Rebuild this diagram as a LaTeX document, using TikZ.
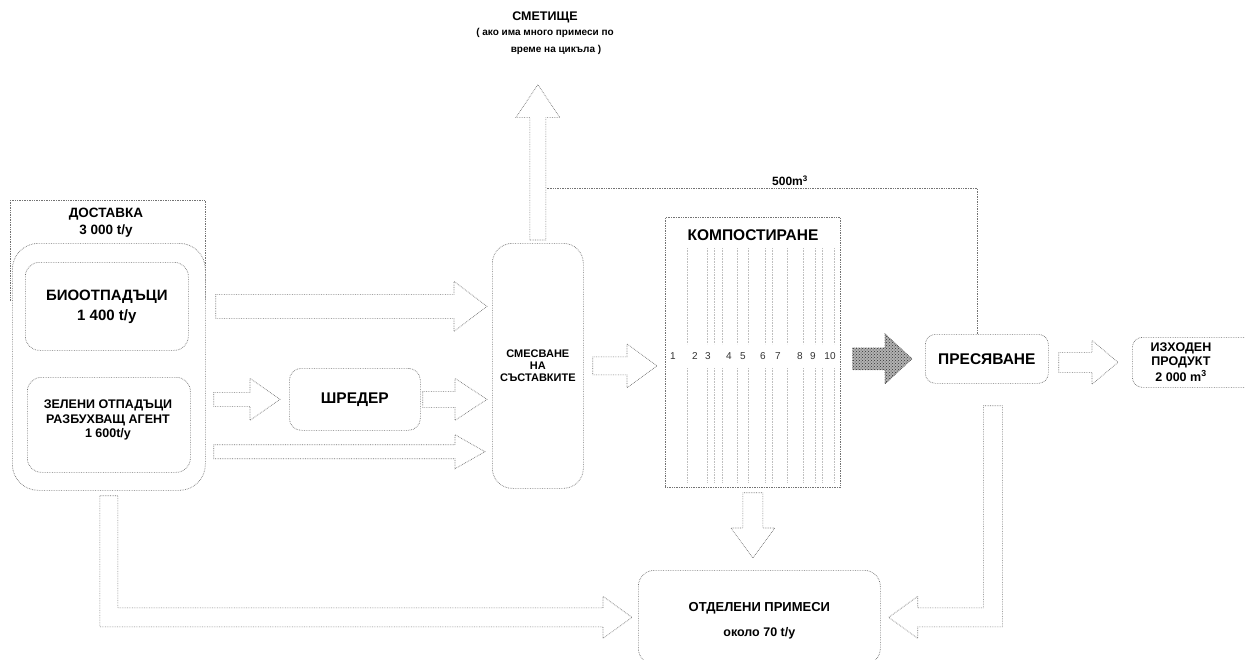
\documentclass[tikz,border=0pt]{standalone}
\usepackage{fontspec}
\setmainfont{Liberation Sans}
\usetikzlibrary{calc,patterns}
\newcommand\fs[1]{\fontsize{#1}{#1}\selectfont}
% horizontal block arrow: [style]{start}{tip}{shaft half}{head half}{head length}
\newcommand\hbarrow[6][]{%
  \draw[barrow,#1] let \p1=#2, \p2=#3 in
    (\x1,\y2+#4) -- (\x2-#6,\y2+#4) -- (\x2-#6,\y2+#5) -- (\x2,\y2) --
    (\x2-#6,\y2-#5) -- (\x2-#6,\y2-#4) -- (\x1,\y2-#4) -- cycle;}
% downward block arrow
\newcommand\dbarrow[6][]{%
  \draw[barrow,#1] let \p1=#2, \p2=#3 in
    (\x2-#4,\y1) -- (\x2-#4,\y2+#6) -- (\x2-#5,\y2+#6) -- (\x2,\y2) --
    (\x2+#5,\y2+#6) -- (\x2+#4,\y2+#6) -- (\x2+#4,\y1) -- cycle;}
% upward block arrow
\newcommand\ubarrow[6][]{%
  \draw[barrow,#1] let \p1=#2, \p2=#3 in
    (\x2-#4,\y1) -- (\x2-#4,\y2-#6) -- (\x2-#5,\y2-#6) -- (\x2,\y2) --
    (\x2+#5,\y2-#6) -- (\x2+#4,\y2-#6) -- (\x2+#4,\y1) -- cycle;}
\begin{document}
\begin{tikzpicture}[x=1pt,y=-1pt,
  ln/.style={draw=black!55, densely dotted, line width=0.7pt},
  barrow/.style={ln, fill=white},
  rbox/.style={ln, fill=white, rounded corners=#1, inner sep=0pt, anchor=north west,
    align=center, font=\bfseries},
  rbox/.default=14pt,
  txt/.style={font=\bfseries, align=center, inner sep=0pt, text=black},
  wr/.style={draw=black!25, densely dotted, line width=0.6pt},
  num/.style={inner sep=0pt, text=black!80, font=\fs{10}},
]
\clip (0,0) rectangle (1245,659);
\fill[white] (0,0) rectangle (1245,659);

% ---------- delivery ----------
\node[ln, rectangle, minimum width=195, minimum height=100, anchor=north west, inner sep=0pt] (dframe) at (10,200) {};
\node[txt, font=\bfseries\fs{13.5}] (dtxt) at (106,223) {ДОСТАВКА\\[3.5pt]3 000 t/y};
\node[rbox=26pt, minimum width=193, minimum height=247] (src) at (12,243) {};
\node[rbox, minimum width=163, minimum height=88, font=\bfseries\fs{15}] (bio) at (25,262) {БИООТПАДЪЦИ\\[5pt]1 400 t/y};
\node[rbox, minimum width=163, minimum height=95] (green) at (27,377) {};
\node[txt, font=\bfseries\fs{12.5}] (greent) at (108,420) {ЗЕЛЕНИ ОТПАДЪЦИ\\[2pt]РАЗБУХВАЩ АГЕНТ\\[2pt]1 600t/y};

% ---------- shredder, mixing ----------
\node[rbox=12pt, minimum width=131, minimum height=62, font=\bfseries\fs{15.5}] (shred) at (289,368) {ШРЕДЕР};
\node[rbox=20pt, minimum width=91, minimum height=245, font=\bfseries\fs{11}] (mix) at (492,243) {СМЕСВАНЕ\\[1pt]НА\\[1pt]СЪСТАВКИТЕ};

% ---------- dump ----------
\node[txt, font=\bfseries\fs{10}] (dump) at (545,33)
  {{\fs{12.5}СМЕТИЩЕ}\\[5.5pt]( ако има много примеси по\\[6.5pt]\hspace*{22pt}време на цикъла )};

% ---------- composting ----------
\node[ln, rectangle, minimum width=175, minimum height=270, anchor=north west, inner sep=0pt] (comp) at (665,217) {};
\node[txt, font=\bfseries\fs{15.5}] (ctitle) at (753,235) {КОМПОСТИРАНЕ};
\foreach \x in {687,707,714,722,737,748,765,772,787,803,815,822,834} {
  \draw[wr] (\x,248) -- (\x,344);
  \draw[wr] (\x,368) -- (\x,482);
}
\foreach \x/\n in {673/1,695/2,708/3,729/4,743/5,763/6,778/7,800/8,813/9,830/10} {
  \node[num] (n\n) at (\x,356) {\n};
}

% ---------- screening, output, separated ----------
\node[rbox=10pt, minimum width=123, minimum height=49, font=\bfseries\fs{15.5}] (pres) at (925,334) {ПРЕСЯВАНЕ};
\node[rbox=10pt, minimum width=130, minimum height=50] (out) at (1132,337) {};
\node[txt, font=\bfseries\fs{12.5}] (outt) at (1181,362) {ИЗХОДЕН\\[1.5pt]ПРОДУКТ\\[1.5pt]2 000 m\textsuperscript{3}};
\node[rbox=16pt, minimum width=242, minimum height=94] (sep) at (638,570) {};
\node[txt, font=\bfseries\fs{13}] (sept) at ([yshift=-3]sep.center) {ОТДЕЛЕНИ ПРИМЕСИ\\[12pt]{\fs{12.5}около 70 t/y}};

% ---------- connectors ----------
\coordinate (a1s) at ([xshift=10]src.east |- bio.center);
\coordinate (a1t) at ([xshift=-5]mix.west |- bio.center);
\hbarrow{(a1s)}{(a1t)}{12pt}{25pt}{33pt}
\coordinate (a2s) at ([xshift=8]src.east |- shred.center);
\coordinate (a2t) at ([xshift=-9]shred.west);
\hbarrow{(a2s)}{(a2t)}{7pt}{21pt}{30pt}
\coordinate (a3s) at ([xshift=2]shred.east);
\coordinate (a3t) at ([xshift=-5]mix.west |- shred.center);
\hbarrow{(a3s)}{(a3t)}{8pt}{21pt}{32pt}
\coordinate (a4s) at ([xshift=8,yshift=21]src.east |- green.south);
\coordinate (a4t) at ([xshift=-7]mix.west |- a4s);
\hbarrow{(a4s)}{(a4t)}{7pt}{17pt}{30pt}
\coordinate (a5s) at ([xshift=9]mix.east);
\coordinate (a5t) at ([xshift=-8]comp.west |- mix.east);
\hbarrow{(a5s)}{(a5t)}{9pt}{22pt}{30pt}
\coordinate (a6s) at ([xshift=12]comp.east |- pres.west);
\coordinate (a6t) at ([xshift=-13]pres.west);
\hbarrow[fill=none, preaction={fill=black!30}, pattern=crosshatch dots, pattern color=black!80, draw=black!70]{(a6s)}{(a6t)}{11pt}{25pt}{27pt}
\coordinate (a7s) at ([xshift=10]pres.east |- out.west);
\coordinate (a7t) at ([xshift=-14]out.west);
\hbarrow{(a7s)}{(a7t)}{10pt}{22pt}{26pt}
\coordinate (a8s) at ([yshift=-5]comp.south);
\coordinate (a8t) at ([yshift=12]sep.north -| comp.south);
\dbarrow{(a8s)}{(a8t)}{10pt}{22pt}{30pt}
\coordinate (a9s) at ([yshift=3]mix.north);
\coordinate (a9t) at ([yshift=-30]dump.south -| mix.north);
\ubarrow{(a9s)}{(a9t)}{8pt}{22pt}{33pt}

% L-shaped arrow from delivery to separated impurities
\draw[barrow] let \p1=(src.south), \p2=(sep.west) in
  (\x1-9,\y1-5) -- (\x1+9,\y1-5) -- (\x1+9,\y2+9.5) -- (\x2-35,\y2+9.5) --
  (\x2-35,\y2+21) -- (\x2-6,\y2) -- (\x2-35,\y2-21) -- (\x2-35,\y2-9.5) --
  (\x1-9,\y2-9.5) -- cycle;
% L-shaped arrow from screening to separated impurities
\draw[barrow] let \p1=(pres.south), \p2=(sep.east) in
  (\x1-3.5,\y1-22) -- (\x1+15.5,\y1-22) -- (\x1+15.5,\y2-9.5) -- (\x2+37,\y2-9.5) --
  (\x2+37,\y2-21) -- (\x2+8,\y2) -- (\x2+37,\y2+21) -- (\x2+37,\y2+9.5) --
  (\x1-3.5,\y2+9.5) -- cycle;

% recirculation line 500 m3
\coordinate (rcy) at (0,188);
\draw[ln] ([xshift=-9.5]pres.north) |- ([xshift=9]mix.north |- rcy);
\node[txt, font=\bfseries\fs{12}] (l500) at (790,181) {500m\textsuperscript{3}};
\end{tikzpicture}
\end{document}
